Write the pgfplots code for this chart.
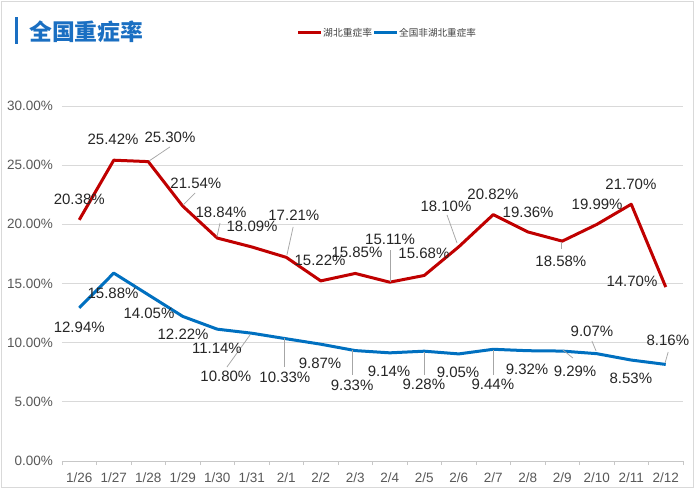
\documentclass[border=0pt]{standalone}
\usepackage{fontspec}
\setmainfont{Liberation Sans}
\newfontfamily\cjk{Noto Sans CJK SC}
\usepackage{pgfplots}
\pgfplotsset{compat=1.18}
\definecolor{hbred}{HTML}{C00000}
\definecolor{qgblue}{HTML}{0070C0}
\definecolor{titleblue}{HTML}{1A6FC2}
\definecolor{gridg}{HTML}{D9D9D9}
\definecolor{tickg}{HTML}{595959}
\definecolor{leadg}{HTML}{A6A6A6}
\newcommand{\lf}{\fontsize{15bp}{18bp}\selectfont}
\begin{document}
\begin{tikzpicture}
\useasboundingbox (0,0) rectangle (700bp,490bp);
\fill[white] (0,0) rectangle (700bp,490bp);
\draw[gridg, line width=1bp] (1.5bp,2bp) rectangle (693bp,488.5bp);
% title
\fill[titleblue] (15bp,446bp) rectangle (18bp,473bp);
\node[anchor=west, inner sep=0pt, text=titleblue, font=\cjk\bfseries\fontsize{22.8bp}{26bp}\selectfont] at (29bp,458bp) {全国重症率};
% legend
\draw[hbred, line width=3bp] (298bp,457bp) -- (321bp,457bp);
\node[anchor=west, inner sep=0pt, text=black!75, font=\cjk\fontsize{9.8bp}{12bp}\selectfont] at (323bp,457bp) {湖北重症率};
\draw[qgblue, line width=3bp] (374bp,457bp) -- (397bp,457bp);
\node[anchor=west, inner sep=0pt, text=black!75, font=\cjk\fontsize{9.6bp}{12bp}\selectfont] at (399bp,457bp) {全国非湖北重症率};
\begin{axis}[
  at={(62bp,29bp)}, anchor=south west,
  scale only axis, width=621bp, height=355bp,
  xmin=-0.5, xmax=17.5, ymin=0, ymax=30,
  clip=false,
  axis x line*=bottom, axis y line*=left,
  x axis line style={draw=gridg!80!gray, -, line width=0.8bp},
  y axis line style={draw=none},
  ytick={0,5,...,30},
  yticklabels={0.00\%,5.00\%,10.00\%,15.00\%,20.00\%,25.00\%,30.00\%},
  xtick={0,...,17},
  xticklabels={1/26,1/27,1/28,1/29,1/30,1/31,2/1,2/2,2/3,2/4,2/5,2/6,2/7,2/8,2/9,2/10,2/11,2/12},
  minor xtick={-0.5,0.5,...,17.5},
  major tick length=0pt,
  minor tick length=4bp,
  tick align=outside,
  minor tick style={draw=gridg!80!gray, line width=0.8bp},
  ymajorgrids,
  major grid style={draw=gridg, line width=0.8bp},
  ticklabel style={text=tickg, font=\fontsize{13.5bp}{16bp}\selectfont},
  yticklabel style={anchor=east, inner sep=0pt, xshift=-9bp},
  xticklabel style={anchor=north, inner sep=0pt, yshift=-12bp},
]
\addplot[hbred, line width=3bp, line join=round] coordinates {
(0,20.38) (1,25.42) (2,25.30) (3,21.54) (4,18.84) (5,18.09) (6,17.21) (7,15.22) (8,15.85)
(9,15.11) (10,15.68) (11,18.10) (12,20.82) (13,19.36) (14,18.58) (15,19.99) (16,21.70) (17,14.70)};
\addplot[qgblue, line width=3bp, line join=round] coordinates {
(0,12.94) (1,15.88) (2,14.05) (3,12.22) (4,11.14) (5,10.80) (6,10.33) (7,9.87) (8,9.33)
(9,9.14) (10,9.28) (11,9.05) (12,9.44) (13,9.32) (14,9.29) (15,9.07) (16,8.53) (17,8.16)};
% leader lines
\begin{scope}[leadg, line width=0.75bp]
\draw (axis cs:2.02,25.35) -- (axis cs:2.63,26.54);
\draw (axis cs:3.01,21.63) -- (axis cs:3.36,22.65);
\draw (axis cs:3.99,18.93) -- (axis cs:4.08,20.11);
\draw (axis cs:6.02,17.41) -- (axis cs:6.20,19.78);
\draw (axis cs:9.01,15.13) -- (axis cs:9.01,17.83);
\draw (axis cs:10.95,18.42) -- (axis cs:10.66,20.79);
\draw (axis cs:13.96,18.5) -- (axis cs:13.96,17.9);
\draw (axis cs:4.95,10.65) -- (axis cs:4.28,7.94);
\draw (axis cs:5.96,10.39) -- (axis cs:5.96,7.94);
\draw (axis cs:7.93,9.38) -- (axis cs:7.93,7.27);
\draw (axis cs:9.99,9.21) -- (axis cs:9.99,7.28);
\draw (axis cs:11.99,9.38) -- (axis cs:11.99,7.28);
\draw (axis cs:14.02,9.38) -- (axis cs:14.31,8.70);
\draw (axis cs:14.98,9.30) -- (axis cs:14.86,10.14);
\draw (axis cs:16.98,8.28) -- (axis cs:17.07,9.21);
\end{scope}
% red labels
\begin{scope}[every node/.style={font=\lf, text=black!85, inner sep=0pt}]
\node at (axis cs:0.00,22.14) {20.38\%};
\node at (axis cs:0.98,27.21) {25.42\%};
\node at (axis cs:2.63,27.38) {25.30\%};
\node at (axis cs:3.38,23.49) {21.54\%};
\node at (axis cs:4.11,21.04) {18.84\%};
\node at (axis cs:5.01,19.86) {18.09\%};
\node at (axis cs:6.22,20.79) {17.21\%};
\node at (axis cs:6.98,16.99) {15.22\%};
\node at (axis cs:8.05,17.66) {15.85\%};
\node at (axis cs:9.01,18.76) {15.11\%};
\node at (axis cs:9.99,17.58) {15.68\%};
\node at (axis cs:10.63,21.50) {18.10\%};
\node at (axis cs:11.99,22.56) {20.82\%};
\node at (axis cs:13.01,21.04) {19.36\%};
\node at (axis cs:13.96,16.90) {18.58\%};
\node at (axis cs:15.01,21.71) {19.99\%};
\node at (axis cs:15.99,23.41) {21.70\%};
\node at (axis cs:16.02,15.21) {14.70\%};
% blue labels
\node at (axis cs:0.00,11.32) {12.94\%};
\node at (axis cs:0.98,14.20) {15.88\%};
\node at (axis cs:2.02,12.51) {14.05\%};
\node at (axis cs:3.01,10.73) {12.22\%};
\node at (axis cs:3.99,9.55) {11.14\%};
\node at (axis cs:4.25,7.18) {10.80\%};
\node at (axis cs:5.96,7.10) {10.33\%};
\node at (axis cs:6.98,8.28) {9.87\%};
\node at (axis cs:7.91,6.42) {9.33\%};
\node at (axis cs:8.98,7.61) {9.14\%};
\node at (axis cs:9.99,6.51) {9.28\%};
\node at (axis cs:10.98,7.52) {9.05\%};
\node at (axis cs:11.99,6.51) {9.44\%};
\node at (axis cs:12.98,7.77) {9.32\%};
\node at (axis cs:14.37,7.61) {9.29\%};
\node at (axis cs:14.86,10.99) {9.07\%};
\node at (axis cs:15.99,7.01) {8.53\%};
\node at (axis cs:17.06,10.23) {8.16\%};
\end{scope}
\end{axis}
\end{tikzpicture}
\end{document}
